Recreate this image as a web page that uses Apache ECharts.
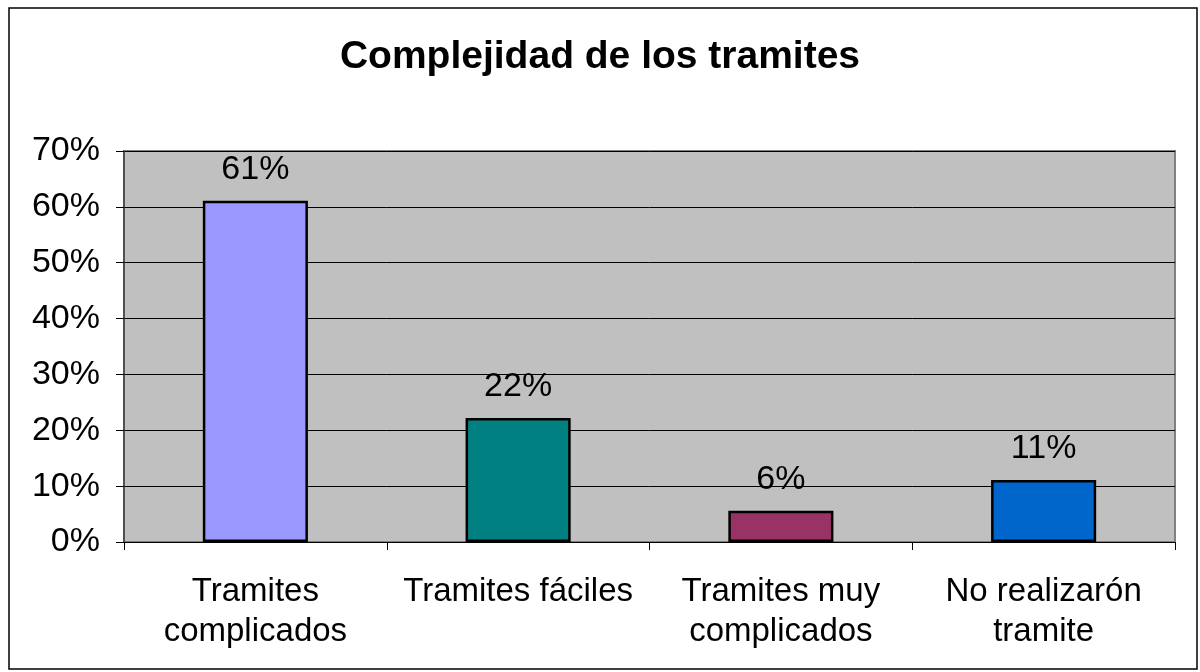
<!DOCTYPE html>
<html>
<head>
<meta charset="utf-8">
<script src="https://cdn.jsdelivr.net/npm/echarts@6/dist/echarts.min.js"></script>
<style>
  html, body { margin: 0; padding: 0; background: #fff; }
  #chart { width: 1200px; height: 672px; }
</style>
</head>
<body>
<div id="chart"></div>
<script>
// datos del grafico
const categorias = ["Tramites\ncomplicados", "Tramites fáciles", "Tramites muy\ncomplicados", "No realizarón\ntramite"];
const valores = [61.1, 22.2, 5.6, 11.1];
const colores = ["#9999FF", "#008080", "#993366", "#0066CC"];
const yTicks = [0, 10, 20, 30, 40, 50, 60, 70];

const font = "'Liberation Sans', Arial, sans-serif";
const chart = echarts.init(document.getElementById("chart"));

chart.setOption({
  animation: false,
  title: {
    text: "Complejidad de los tramites",
    left: "center",
    top: 33,
    textStyle: { fontFamily: font, fontSize: 39, fontWeight: "bold", color: "#000" },
  },
  graphic: [
    {
      type: "rect",
      shape: { x: 9, y: 8, width: 1188, height: 661 },
      style: { fill: "none", stroke: "#000", lineWidth: 1.5 },
      silent: true,
    },
  ],
  grid: {
    left: 124,
    right: 25,
    top: 151,
    bottom: 130,
    show: true,
    backgroundColor: "#C0C0C0",
    borderColor: "#808080",
    borderWidth: 2,
  },
  xAxis: {
    type: "category",
    data: categorias,
    axisLine: { lineStyle: { color: "#000", width: 1 } },
    axisTick: { show: true, length: 8, lineStyle: { color: "#000" } },
    axisLabel: {
      interval: 0,
      margin: 30,
      fontFamily: font,
      fontSize: 33,
      lineHeight: 40,
      color: "#000",
    },
  },
  yAxis: {
    type: "value",
    min: yTicks[0],
    max: yTicks[yTicks.length - 1],
    interval: 10,
    axisLine: { show: true, lineStyle: { color: "#404040", width: 1.5 } },
    axisTick: { show: true, length: 8, lineStyle: { color: "#000" } },
    splitLine: { show: true, lineStyle: { color: "#000", width: 1 } },
    axisLabel: {
      margin: 24,
      fontFamily: font,
      fontSize: 34,
      color: "#000",
      formatter: (v) => v + "%",
    },
  },
  series: [
    {
      type: "bar",
      barWidth: "40%",
      data: valores.map((v, i) => ({
        value: v,
        itemStyle: { color: colores[i], borderColor: "#000", borderWidth: 2.5 },
      })),
      label: {
        show: true,
        position: "top",
        distance: 14,
        fontFamily: font,
        fontSize: 34,
        color: "#000",
        formatter: (p) => Math.round(p.value) + "%",
      },
    },
  ],
});
</script>
</body>
</html>
